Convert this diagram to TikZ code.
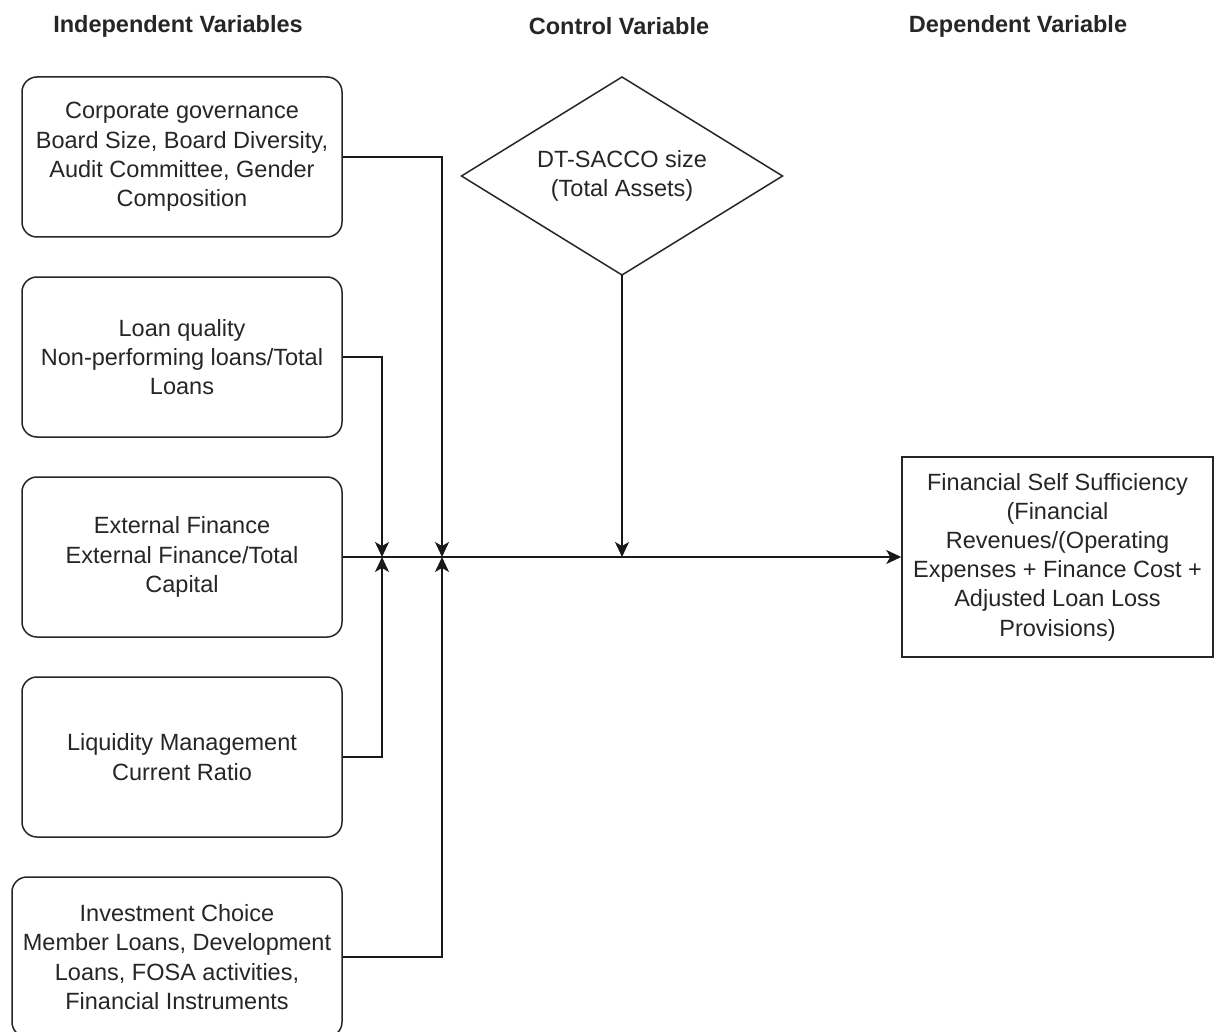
\documentclass[tikz,border=0pt]{standalone}
\usepackage{fontspec}
\setmainfont{Liberation Sans}
\usetikzlibrary{shapes.geometric,arrows.meta}
\begin{document}
\begin{tikzpicture}[x=1pt,y=-1pt,
  every node/.style={font=\fontsize{23.5}{29.2}\selectfont, text=black!85},
  ivbox/.style={draw=black!85, line width=1.5pt, rounded corners=15pt, minimum width=320pt, minimum height=160pt, align=center, inner sep=0pt},
  depbox/.style={draw=black!85, line width=1.5pt, minimum width=311pt, minimum height=200pt, align=center, inner sep=0pt},
  ctrl/.style={draw=black!85, line width=1.5pt, shape=diamond, aspect=1.62, minimum width=321pt, minimum height=198pt, align=center, inner sep=0pt, outer sep=0pt},
  header/.style={font=\bfseries\fontsize{23.5}{29.2}\selectfont},
  link/.style={draw=black!90, line width=1.5pt},
  arr/.style={link, -{Stealth[length=15pt,width=14pt,inset=4pt]}}
]
\useasboundingbox (0,0) rectangle (1214,1032);
\fill[white] (0,0) rectangle (1214,1032);

\node[header] (h1) at (178,26) {Independent Variables};
\node[header] (h2) at (619,26) {Control Variable};
\node[header] (h3) at (1018,26) {Dependent Variable};

\node[ivbox] (b1) at (182,157) {Corporate governance\\Board Size, Board Diversity,\\Audit Committee, Gender\\Composition};
\node[ivbox] (b2) at (182,357) {Loan quality\\Non-performing loans/Total\\Loans};
\node[ivbox] (b3) at (182,557) {External Finance\\External Finance/Total\\Capital};
\node[ivbox] (b4) at (182,757) {Liquidity Management\\Current Ratio};
\node[ivbox, minimum width=330pt] (b5) at (177,957) {Investment Choice\\Member Loans, Development\\Loans, FOSA activities,\\Financial Instruments};

\node[ctrl] (c) at (622,176) {DT-SACCO size\\(Total Assets)};

\node[depbox] (d) at (1057.5,557) {Financial Self Sufficiency\\(Financial\\Revenues/(Operating\\Expenses + Finance Cost +\\Adjusted Loan Loss\\Provisions)};

\coordinate (j1) at (382,557);
\coordinate (j2) at (442,557);
\coordinate (j3) at (622,557);

\draw[arr] (b3.east) -- (d.west);
\draw[arr] (b1.east) -| (j2);
\draw[arr] (b2.east) -| (j1);
\draw[arr] (b4.east) -| (j1);
\draw[arr] (b5.east) -| (j2);
\draw[arr] (c.south) -- (j3);
\end{tikzpicture}
\end{document}
